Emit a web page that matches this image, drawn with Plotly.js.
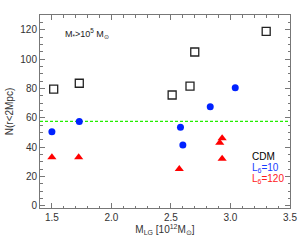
<!DOCTYPE html>
<html><head><meta charset="utf-8">
<script src="https://cdn.plot.ly/plotly-3.0.1.min.js"></script>
<style>html,body{margin:0;padding:0;background:#fff}#c{width:300px;height:240px}</style>
</head><body><div id="c"></div>
<script>
const cdmX = [1.515, 1.73, 2.51, 2.66, 2.70, 3.30];
const cdmY = [79.5, 83.5, 75.5, 81.5, 104.8, 118.8];
const l10X = [1.50, 1.73, 2.58, 2.60, 2.83, 3.04];
const l10Y = [50.5, 57.5, 53.5, 41.5, 67.5, 80.5];
const l120X = [1.50, 1.725, 2.57, 2.91, 2.93, 2.93];
const l120Y = [33.0, 33.0, 25.0, 43.0, 46.0, 32.0];
const refLineY = 57.5;
const xTicks = [1.5, 2.0, 2.5, 3.0, 3.5];
const xTickLabels = ['1.5', '2.0', '2.5', '3.0', '3.5'];
const yTicks = [0, 20, 40, 60, 80, 100, 120];
const xRange = [1.4, 3.5];
const yRange = [-1.5, 130];

const font = {family: 'Liberation Sans, Arial, sans-serif', size: 10, color: '#333'};
const traces = [
  {x: xRange, y: [refLineY, refLineY], mode: 'lines', line: {color: '#22ee00', width: 1.2, dash: '3px,2px'}, showlegend: false, hoverinfo: 'skip'},
  {x: cdmX, y: cdmY, mode: 'markers', marker: {symbol: 'square-open', size: 8, color: '#222', line: {width: 1.3}}, showlegend: false},
  {x: l10X, y: l10Y, mode: 'markers', marker: {symbol: 'circle', size: 7, color: '#0022ff'}, showlegend: false},
  {x: l120X, y: l120Y, mode: 'markers', marker: {symbol: 'triangle-up', size: 8, color: '#ff0000'}, showlegend: false}
];
const axisCommon = {showgrid: false, zeroline: false, showline: true, linecolor: '#777', linewidth: 1, mirror: 'allticks', ticks: 'inside', ticklen: 5, tickcolor: '#777', tickfont: font};
const layout = {
  width: 300, height: 240,
  margin: {l: 40, r: 10, t: 15, b: 32},
  paper_bgcolor: '#fff', plot_bgcolor: '#fff',
  font: font,
  xaxis: Object.assign({}, axisCommon, {range: xRange, tickvals: xTicks, ticktext: xTickLabels,
    minor: {dtick: 0.1, ticks: 'inside', ticklen: 2.5, tickcolor: '#777'},
    title: {text: 'M<sub>LG</sub> [10<sup>12</sup>M<sub>⊙</sub>]', font: font, standoff: 2}}),
  yaxis: Object.assign({}, axisCommon, {range: yRange, tickvals: yTicks,
    minor: {dtick: 5, ticks: 'inside', ticklen: 2.5, tickcolor: '#777'},
    title: {text: 'N(r<2Mpc)', font: font, standoff: 4}}),
  annotations: [
    {xref: 'paper', yref: 'paper', x: 0.09, y: 0.905, xanchor: 'left', yanchor: 'middle', showarrow: false,
     text: 'M<sub>*</sub>>10<sup>5</sup> M<sub>⊙</sub>', font: {family: font.family, size: 9, color: '#222'}},
    {xref: 'paper', yref: 'paper', x: 0.838, y: 0.265, xanchor: 'left', yanchor: 'middle', showarrow: false,
     text: 'CDM', font: {family: font.family, size: 10, color: '#000'}},
    {xref: 'paper', yref: 'paper', x: 0.838, y: 0.207, xanchor: 'left', yanchor: 'middle', showarrow: false,
     text: 'L<sub>6</sub>=10', font: {family: font.family, size: 10, color: '#1a3cff'}},
    {xref: 'paper', yref: 'paper', x: 0.838, y: 0.152, xanchor: 'left', yanchor: 'middle', showarrow: false,
     text: 'L<sub>6</sub>=120', font: {family: font.family, size: 10, color: '#ff1a1a'}}
  ]
};
Plotly.newPlot('c', traces, layout, {staticPlot: true, displayModeBar: false});
</script></body></html>
